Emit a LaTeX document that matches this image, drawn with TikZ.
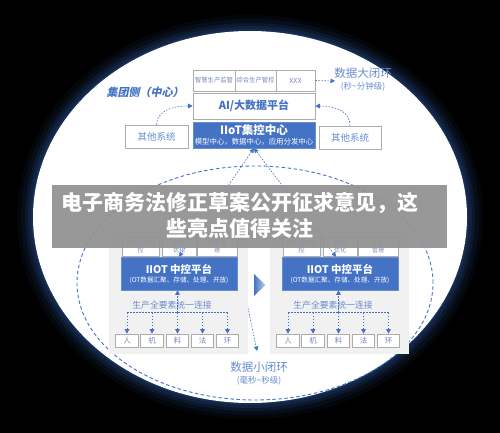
\documentclass[tikz,border=0pt]{standalone}
\usepackage{fontspec}
\setmainfont{Noto Sans CJK SC}
\newfontfamily\grpfont{Noto Sans CJK SC}[FakeSlant=0.22]
\usetikzlibrary{arrows.meta}
\definecolor{bblue}{RGB}{68,114,196}
\definecolor{lblue}{RGB}{105,140,208}
\definecolor{gline}{RGB}{172,172,172}
\definecolor{gtext}{RGB}{115,135,180}
\definecolor{panelg}{RGB}{241,241,241}
\definecolor{glowc}{RGB}{30,60,110}
\definecolor{bannerg}{RGB}{146,146,146}
\newcommand\fsz[2]{\fontsize{#1}{#2}\selectfont}
\tikzset{
  gbox/.style={draw=gline, line width=0.6pt, fill=white, inner sep=0pt, text=gtext, align=center},
  bluebox/.style={fill=bblue, draw=bblue!80!white, line width=0.5pt, inner sep=0pt, text=white, align=center},
  panelbox/.style={fill=panelg, draw=none, inner sep=0pt},
  dline/.style={draw=bblue, line width=0.6pt, dash pattern=on 1.6pt off 1.4pt},
  tipa/.style={-{Triangle[length=4.5pt,width=4.5pt]}},
  tipb/.style={{Triangle[length=4.5pt,width=4.5pt]}-{Triangle[length=4.5pt,width=4.5pt]}},
  lbl/.style={inner sep=0pt, align=center},
}
\begin{document}
\begin{tikzpicture}[x=1pt,y=-1pt]
\useasboundingbox (0,0) rectangle (500,433);
\fill[black] (0,0) rectangle (500,433);
% glow around the white ellipse
\foreach \d/\o in {16/0.10,12/0.15,8/0.22,5/0.32,2/0.45}
  \fill[glowc,opacity=\o] (250,217) ellipse [x radius=217pt+\d pt, y radius=186pt+\d pt];
\fill[white] (250,217) ellipse [x radius=217pt, y radius=186pt];
% dashed inner ellipse
\draw[bblue, line width=0.9pt, dash pattern=on 3.5pt off 2.5pt] (255,283) ellipse [x radius=178pt, y radius=117pt];

% ---------- top (group side) ----------
\node[gbox, minimum width=42pt, minimum height=21pt, font=\fsz{6.3}{7}] (b1) at (214,80.5) {智慧生产监管};
\node[gbox, minimum width=41pt, minimum height=21pt, font=\fsz{6.3}{7}] (b2) at (255.5,80.5) {综合生产管控};
\node[gbox, minimum width=39pt, minimum height=21pt, font=\fsz{7}{8}] (b3) at (295.5,80.5) {XXX};
\node[gbox, minimum width=122pt, minimum height=26pt, text=bblue, font=\fsz{11}{13}\bfseries] (ai) at (254,106) {AI/大数据平台};
\node[bluebox, minimum width=122pt, minimum height=26pt] (iiot) at (254,135) {};
\node[lbl, text=white, font=\fsz{11.5}{13}\bfseries] (iiott) at (254,130) {IIoT集控中心};
\node[lbl, text=white, font=\fsz{7.4}{8}] (iiots) at (254,142) {模型中心，数据中心，应用分发中心};
\node[gbox, minimum width=63pt, minimum height=23pt, text=lblue, font=\fsz{9.5}{11}] (o1) at (156.5,136.5) {其他系统};
\node[gbox, minimum width=62pt, minimum height=23pt, text=lblue, font=\fsz{9.5}{11}] (o2) at (350,137.5) {其他系统};
\node[lbl, text=bblue, font=\grpfont\fsz{11}{13}\bfseries] (grp) at (145,92) {集团侧（中心）};
\node[lbl, text=lblue, font=\fsz{11.5}{13}] (big1) at (363,73) {数据大闭环};
\node[lbl, text=lblue, font=\fsz{8.5}{10}] (big2) at (363,86.5) {(秒\textasciitilde 分钟级)};
\coordinate (bigin) at (335,81);
\draw[dline, tipa] (b3.east) -- (bigin);
\draw[dline, tipa] (o1.north) .. controls (157,112) and (170,106) .. (ai.west);
\draw[dline, tipa] (o2.north) .. controls (350,112) and (337,106) .. (ai.east);

% hidden line towards the small loop (behind the left panel)
\coordinate (hstart) at (240,270);
\coordinate (hend) at (257,351);
\draw[dline, tipa] (hstart) -- (hend);

% ---------- the two plant panels ----------
\foreach \s/\dx/\tl/\tr in {L/0/设备管/理, R/161/设备/管理}{
\begin{scope}[xshift=\dx]
  \node[panelbox, minimum width=139pt, minimum height=127pt] (pan\s) at (178.5,290) {};
  \node[gbox, minimum width=37pt, minimum height=19pt, font=\fsz{6}{7}] (t1\s) at (140.5,246.5) {生产过程监\\控};
  \node[gbox, minimum width=34pt, minimum height=19pt, font=\fsz{6}{7}] (t2\s) at (179,246.5) {能耗\\优化};
  \node[gbox, minimum width=40pt, minimum height=19pt, font=\fsz{6}{7}] (t3\s) at (217,246.5) {\tl\\\tr};
  \node[bluebox, minimum width=116pt, minimum height=33pt] (cp\s) at (179,273.5) {};
  \node[lbl, text=white, font=\fsz{10.5}{12}\bfseries] (cpt\s) at (179,269) {IIOT 中控平台};
  \node[lbl, text=white, font=\fsz{6.6}{7.5}] (cps\s) at (179,280.5) {(OT数据汇聚、存储、处理、开放)};
  \node[lbl, text=lblue, font=\fsz{8.8}{10}] (con\s) at (172,305) {生产全要素统一连接};
  \node[gbox, minimum width=22.5pt, minimum height=13pt, font=\fsz{7.5}{8}] (m1\s) at (127,340.5) {人};
  \node[gbox, minimum width=22.5pt, minimum height=13pt, font=\fsz{7.5}{8}] (m2\s) at (152,340.5) {机};
  \node[gbox, minimum width=22.5pt, minimum height=13pt, font=\fsz{7.5}{8}] (m3\s) at (177.5,340.5) {料};
  \node[gbox, minimum width=22.5pt, minimum height=13pt, font=\fsz{7.5}{8}] (m4\s) at (202.5,340.5) {法};
  \node[gbox, minimum width=22.5pt, minimum height=13pt, font=\fsz{7.5}{8}] (m5\s) at (227.5,340.5) {环};
  \coordinate (h1\s) at (127,312.5);
  \coordinate (h5\s) at (227.5,312.5);
  \draw[dline] (h1\s) -- (h5\s);
  \foreach \k in {1,...,5}{
    \draw[dline, tipa] (m\k\s.north |- h1\s) -- (m\k\s.north);
  }
  \draw[dline, tipa] (m3\s.north |- h1\s) -- (m3\s.north |- cp\s.south);
\end{scope}
}
% arrows from group IIoT centre to both plant platforms
\draw[dline, tipb] (iiot.south) -- (cpL.north);
\draw[dline, tipb] (iiot.south) -- ([xshift=-4pt]cpR.north);

% triangle between the panels
\coordinate (tr1) at (254,274);
\coordinate (tr2) at (254,296);
\coordinate (tr3) at (265.5,285);
\shade[left color=bblue, right color=bblue!35!white] (tr1) -- (tr3) -- (tr2) -- cycle;

% small loop label
\node[lbl, text=lblue, font=\fsz{11.5}{13}] (sm1) at (259,367) {数据小闭环};
\node[lbl, text=lblue, font=\fsz{8.5}{10}] (sm2) at (259,380.5) {(毫秒\textasciitilde 秒级)};

% ---------- banner ----------
\fill[bannerg, fill opacity=0.94] (52,185) rectangle (447,248);
\node[lbl, text=white, align=center, font=\fsz{21}{26}\bfseries] (title) at (240,215) {电子商务法修正草案公开征求意见，这\\些亮点值得关注};
\end{tikzpicture}
\end{document}
